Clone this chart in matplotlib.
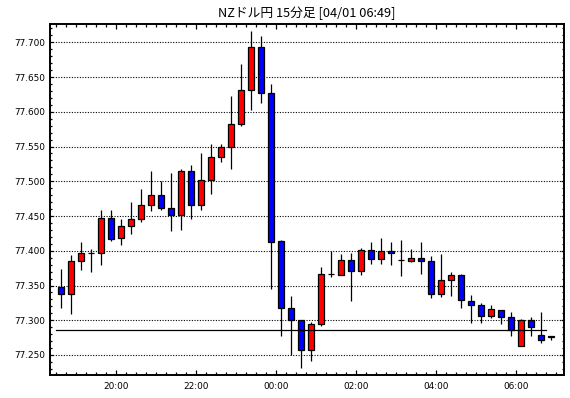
import matplotlib
matplotlib.use("Agg")
import matplotlib.pyplot as plt
from matplotlib.patches import Rectangle
from matplotlib.ticker import MultipleLocator, FixedLocator
import numpy as np

title = "NZドル円 15分足 [04/01 06:49]"
start_time = "18:30"   # start of first 15-min candle
interval_min = 15

opens = [77.348, 77.338, 77.385, 77.397, 77.397, 77.447, 77.418, 77.436, 77.446, 77.466,
         77.480, 77.462, 77.451, 77.515, 77.466, 77.502, 77.535, 77.549, 77.583, 77.631,
         77.693, 77.627, 77.414, 77.318, 77.300, 77.257, 77.295, 77.366, 77.365, 77.386,
         77.371, 77.401, 77.388, 77.400, 77.386, 77.385, 77.390, 77.385, 77.338, 77.358,
         77.365, 77.328, 77.322, 77.306, 77.315, 77.305, 77.263, 77.300, 77.279, 77.277]
highs = [77.374, 77.394, 77.413, 77.403, 77.458, 77.458, 77.446, 77.470, 77.489, 77.515,
         77.500, 77.512, 77.517, 77.523, 77.540, 77.554, 77.553, 77.623, 77.669, 77.716,
         77.709, 77.640, 77.415, 77.335, 77.300, 77.297, 77.377, 77.400, 77.396, 77.397,
         77.404, 77.413, 77.418, 77.413, 77.415, 77.403, 77.413, 77.393, 77.396, 77.370,
         77.367, 77.337, 77.325, 77.322, 77.315, 77.312, 77.302, 77.304, 77.312, 77.277]
lows = [77.317, 77.309, 77.372, 77.369, 77.379, 77.414, 77.409, 77.424, 77.442, 77.457,
        77.458, 77.429, 77.430, 77.446, 77.458, 77.482, 77.528, 77.517, 77.580, 77.602,
        77.613, 77.345, 77.278, 77.250, 77.231, 77.241, 77.291, 77.362, 77.365, 77.327,
        77.365, 77.381, 77.381, 77.379, 77.363, 77.384, 77.366, 77.332, 77.333, 77.335,
        77.317, 77.296, 77.296, 77.303, 77.294, 77.278, 77.263, 77.278, 77.267, 77.272]
closes = [77.338, 77.385, 77.397, 77.397, 77.447, 77.417, 77.435, 77.446, 77.466, 77.480,
          77.462, 77.451, 77.515, 77.466, 77.502, 77.535, 77.549, 77.583, 77.631, 77.693,
          77.627, 77.413, 77.318, 77.300, 77.257, 77.295, 77.366, 77.366, 77.386, 77.371,
          77.401, 77.388, 77.400, 77.397, 77.386, 77.390, 77.385, 77.338, 77.358, 77.365,
          77.329, 77.322, 77.306, 77.316, 77.305, 77.286, 77.300, 77.290, 77.272, 77.276]
ref_line = 77.2855
xtick_labels = ["20:00", "22:00", "00:00", "02:00", "04:00", "06:00"]
ytick_values = [77.250, 77.300, 77.350, 77.400, 77.450, 77.500, 77.550, 77.600, 77.650, 77.700]

def to_min(s):
    h, m = map(int, s.split(":"))
    return h * 60 + m

t0 = to_min(start_time)
def time_to_x(s):
    m = to_min(s)
    if m < t0:
        m += 24 * 60
    return (m - t0) / interval_min - 0.5

n = len(opens)
fig = plt.figure(figsize=(5.70, 3.98), dpi=100)
ax = fig.add_axes([49.5 / 570, 1 - 375 / 398, (564 - 49.5) / 570, (375 - 24.3) / 398])

body_w = 0.64
for i in range(n):
    o, h, l, c = opens[i], highs[i], lows[i], closes[i]
    ax.plot([i, i], [l, h], color="black", lw=0.9, zorder=2, solid_capstyle="butt")
    col = "#ff0000" if c > o else "#0000ff"
    ax.add_patch(Rectangle((i - body_w / 2, min(o, c)), body_w, abs(c - o),
                           facecolor=col, edgecolor="black", lw=0.9, zorder=3))

ax.plot([-0.5, n - 1.5], [ref_line, ref_line], color="black", lw=0.9, zorder=4)

ax.set_xlim(-1.12, 50.33)
ax.set_ylim(77.2212, 77.7259)

for yv in ytick_values:
    ax.axhline(yv, color="black", lw=0.8, linestyle=(0, (1, 1.4)), zorder=1)

ax.yaxis.set_major_locator(FixedLocator(ytick_values))
ax.set_yticklabels([f"{v:.3f}" for v in ytick_values])
ax.yaxis.set_minor_locator(MultipleLocator(0.01))

ax.xaxis.set_major_locator(FixedLocator([time_to_x(s) for s in xtick_labels]))
ax.set_xticklabels(xtick_labels)
ax.xaxis.set_minor_locator(FixedLocator(np.arange(-0.5, n, 1.0)))

ax.tick_params(which="both", direction="in", top=True, right=True, color="black",
               labelsize=6.4, width=0.9)
ax.tick_params(axis="y", which="major", length=2.3, pad=3)
ax.tick_params(axis="y", which="minor", length=1.5)
ax.tick_params(axis="x", which="major", length=3.6, pad=5)
ax.tick_params(axis="x", which="minor", length=2.0)
for sp in ax.spines.values():
    sp.set_linewidth(1.4)

fig.text((49.5 + 564) / 2 / 570, 1 - 13 / 398, title, ha="center", va="center",
         fontsize=9.2, family=["Noto Sans CJK JP", "DejaVu Sans"])

fig.savefig("out.png", dpi=100)
